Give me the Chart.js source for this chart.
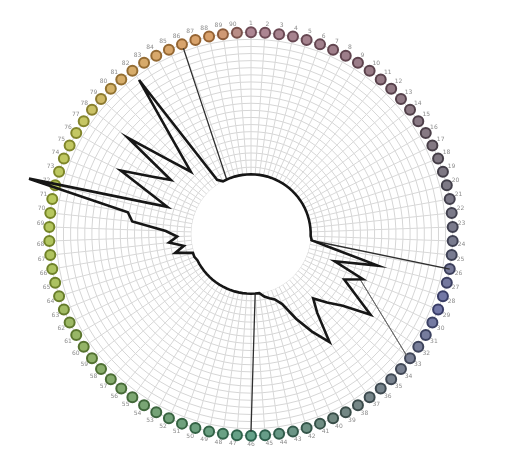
<!DOCTYPE html>
<html>
<head>
<meta charset="utf-8">
<script src="https://cdn.jsdelivr.net/npm/chart.js@4/dist/chart.umd.min.js"></script>
<style>
  html, body { margin: 0; padding: 0; background: #ffffff; }
  #wrap { width: 521px; height: 452px; }
</style>
</head>
<body>
<div id="wrap"><canvas id="c" width="521" height="452"></canvas></div>
<script>
// Position labels around the ring
const positions = [
  '1','2','3','4','5','6','7','8','9','10','11','12','13','14','15','16','17','18','19','20',
  '21','22','23','24','25','26','27','28','29','30','31','32','33','34','35','36','37','38','39','40',
  '41','42','43','44','45','46','47','48','49','50','51','52','53','54','55','56','57','58','59','60',
  '61','62','63','64','65','66','67','68','69','70','71','72','73','74','75','76','77','78','79','80',
  '81','82','83','84','85','86','87','88','89','90'
];

// Profile value at each position (0 = inner baseline)
const profile = [
  0, 0, 0, 0, 0, 0, 0, 0, 0, 0, 0, 0, 0, 0, 0, 0, 0, 0, 0, 0,
  0, 0, 0, 0, 1, 16.5, 50, 20, 43, 31, 42.7, 59.5, 40, 30, 21, 30.5, 52, 39, 25.5, 12,
  7, 5, 3, 0, 0, 0, 0, 0, 0, 0, 0, 0, 0, 0, 0, 0, 0, 0, 0, 0,
  0, 0, 1, 1, 13, 6, 16, 10, 18, 42, 46, 119, 20, 35, 60, 39, 26, 68, 36, 19,
  42, 92, 3, 0, 0, 0, 0, 0, 0, 0
];

// Single marker strokes: from the baseline out to the ring
const markers = [
  null, null, null, null, null, null, null, null, null, null, null, null, null, null, null, null, null, null, null, null,
  null, null, null, null, 0, 100, null, null, null, null, null, null, null, null, null, null, null, null, null, null,
  null, null, null, null, 0, 97, null, null, null, null, null, null, null, null, null, null, null, null, null, null,
  null, null, null, null, null, null, null, null, null, null, null, null, null, null, null, null, null, null, null, null,
  null, null, null, null, 0, 97, null, null, null, null
];

// Slanted marker stroke in the lower right
const slantMarker = [
  null, null, null, null, null, null, null, null, null, null, null, null, null, null, null, null, null, null, null, null,
  null, null, null, null, null, null, null, null, 40, null, null, null, 97, null, null, null, null, null, null, null,
  null, null, null, null, null, null, null, null, null, null, null, null, null, null, null, null, null, null, null, null,
  null, null, null, null, null, null, null, null, null, null, null, null, null, null, null, null, null, null, null, null,
  null, null, null, null, null, null, null, null, null, null
];

// Outer ring of position markers
const ring = [
  100, 100, 100, 100, 100, 100, 100, 100, 100, 100, 100, 100, 100, 100, 100, 100, 100, 100, 100, 100,
  100, 100, 100, 100, 100, 100, 100, 100, 100, 100, 100, 100, 100, 100, 100, 100, 100, 100, 100, 100,
  100, 100, 100, 100, 100, 100, 100, 100, 100, 100, 100, 100, 100, 100, 100, 100, 100, 100, 100, 100,
  100, 100, 100, 100, 100, 100, 100, 100, 100, 100, 100, 100, 100, 100, 100, 100, 100, 100, 100, 100,
  100, 100, 100, 100, 100, 100, 100, 100, 100, 100
];

// Colour wheel for the ring: [angle clockwise from top, colour]
const ringStops = [
  [0,   '#9a6878'], [40,  '#7c5a68'], [70,  '#5e5662'], [95,  '#575a74'],
  [110, '#4e5492'], [130, '#5a6278'], [155, '#4f6a62'], [180, '#3e8a6c'],
  [205, '#4f8a58'], [230, '#6e9a44'], [255, '#96b23a'], [280, '#a8bc36'],
  [305, '#b8b83e'], [318, '#cc9a44'], [350, '#d08848'], [356, '#a87068'],
  [360, '#9a6878']
];

function hexRgb(h) {
  return [parseInt(h.slice(1, 3), 16), parseInt(h.slice(3, 5), 16), parseInt(h.slice(5, 7), 16)];
}
function ringColour(angle, shade) {
  let k = 0;
  while (k < ringStops.length - 2 && ringStops[k + 1][0] <= angle) k++;
  const [a0, c0] = ringStops[k], [a1, c1] = ringStops[k + 1];
  const t = (angle - a0) / (a1 - a0);
  const p = hexRgb(c0), q = hexRgb(c1);
  const mix = p.map((v, j) => v + (q[j] - v) * t);
  const out = mix.map(v => shade >= 0 ? v + (255 - v) * shade : v * (1 + shade));
  return 'rgb(' + out.map(v => Math.round(v)).join(',') + ')';
}
const step = 360 / positions.length;
const ringFill = positions.map((_, i) => ringColour(i * step, 0.2));
const ringEdge = positions.map((_, i) => ringColour(i * step, -0.28));

// White hub covering the inside of the baseline circle
const hub = {
  id: 'hub',
  beforeDatasetsDraw(chart) {
    const s = chart.scales.r;
    const ctx = chart.ctx;
    ctx.save();
    ctx.fillStyle = '#ffffff';
    ctx.beginPath();
    ctx.arc(s.xCenter, s.yCenter, s.getDistanceFromCenterForValue(0), 0, Math.PI * 2);
    ctx.fill();
    ctx.restore();
  }
};

new Chart(document.getElementById('c'), {
  type: 'radar',
  data: {
    labels: positions,
    datasets: [
      {
        data: profile,
        order: 0,
        borderColor: '#161616',
        borderWidth: 2.6,
        backgroundColor: 'rgba(0,0,0,0)',
        fill: false,
        pointRadius: 0,
        tension: 0,
        clip: false
      },
      {
        data: markers,
        order: 1,
        borderColor: '#2e2e2e',
        borderWidth: 1.3,
        fill: false,
        pointRadius: 0,
        spanGaps: false,
        clip: false
      },
      {
        data: slantMarker,
        order: 1,
        borderColor: '#6a6a6a',
        borderWidth: 1,
        fill: false,
        pointRadius: 0,
        spanGaps: true,
        clip: false
      },
      {
        data: ring,
        order: 2,
        showLine: false,
        fill: false,
        pointRadius: 5,
        pointBorderWidth: 2,
        pointBackgroundColor: ringFill,
        pointBorderColor: ringEdge,
        clip: false
      }
    ]
  },
  options: {
    responsive: false,
    animation: false,
    devicePixelRatio: 1,
    layout: { padding: { left: 4, right: 22, top: 20, bottom: 4 } },
    plugins: { legend: { display: false }, tooltip: { enabled: false } },
    scales: {
      r: {
        min: -42,
        max: 100,
        startAngle: 0,
        ticks: { display: false, stepSize: 5 },
        grid: {
          color: (c) => (c.tick && c.tick.value < 0) ? 'rgba(0,0,0,0)' : '#d6d6d6',
          lineWidth: 1
        },
        angleLines: { color: '#d8d8d8', lineWidth: 1 },
        pointLabels: {
          color: '#8c8c8c',
          padding: 5,
          font: { size: 6, family: 'DejaVu Sans' }
        }
      }
    }
  },
  plugins: [hub]
});
</script>
</body>
</html>
